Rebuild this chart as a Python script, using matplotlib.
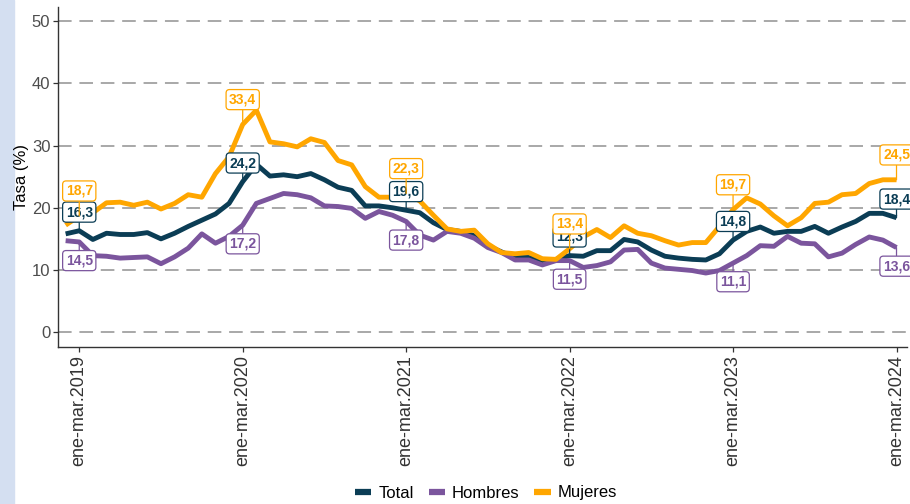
import numpy as np
import matplotlib
matplotlib.use("Agg")
import matplotlib.pyplot as plt
from matplotlib.lines import Line2D
from matplotlib.patches import Rectangle

plt.rcParams['font.family'] = ['Liberation Sans', 'DejaVu Sans']

# ---- data ----
meses = ["ene", "feb", "mar", "abr", "may", "jun", "jul", "ago", "sep", "oct", "nov", "dic"]
periodos = ["dic-feb.2019"] + [
    f"{meses[m % 12]}-{meses[(m + 2) % 12]}.{2019 + m // 12}" for m in range(61)
]

total = [15.8, 16.3, 14.9, 15.9, 15.7, 15.7, 16.0, 15.0, 15.9, 17.0, 18.0, 19.0, 20.7,
         24.2, 27.0, 25.1, 25.3, 25.0, 25.5, 24.5, 23.3, 22.8, 20.3, 20.3, 20.0,
         19.6, 19.2, 17.6, 16.5, 16.2, 15.5, 13.9, 12.9, 12.0, 12.0, 11.5, 11.7,
         12.3, 12.2, 13.1, 13.1, 14.9, 14.5, 13.2, 12.2, 11.9, 11.7, 11.6, 12.6,
         14.8, 16.2, 16.9, 15.9, 16.2, 16.2, 17.0, 15.9, 16.9, 17.8, 19.1, 19.1,
         18.4]
hombres = [14.7, 14.5, 12.3, 12.2, 11.9, 12.0, 12.1, 11.0, 12.1, 13.5, 15.8, 14.3, 15.4,
           17.2, 20.7, 21.5, 22.3, 22.1, 21.6, 20.3, 20.2, 19.9, 18.3, 19.4, 18.8,
           17.8, 15.6, 14.8, 16.2, 15.9, 15.1, 13.6, 12.8, 11.6, 11.6, 10.8, 11.5,
           11.5, 10.4, 10.7, 11.3, 13.2, 13.3, 11.1, 10.3, 10.1, 9.9, 9.5, 9.9,
           11.1, 12.3, 13.9, 13.8, 15.4, 14.3, 14.2, 12.1, 12.7, 14.1, 15.3, 14.8,
           13.6]
mujeres = [17.2, 18.7, 19.2, 20.8, 20.9, 20.4, 20.9, 19.8, 20.7, 22.1, 21.7, 25.5, 28.2,
           33.4, 35.7, 30.6, 30.3, 29.8, 31.1, 30.5, 27.6, 26.9, 23.4, 21.7, 21.7,
           22.3, 21.1, 18.8, 16.6, 16.2, 16.4, 14.2, 12.8, 12.6, 12.8, 11.8, 11.7,
           13.4, 15.3, 16.5, 15.2, 17.1, 15.9, 15.5, 14.7, 14.0, 14.4, 14.4, 17.0,
           19.7, 21.6, 20.6, 18.7, 17.1, 18.4, 20.7, 20.9, 22.1, 22.3, 23.9, 24.5,
           24.5]

series = ["Total", "Hombres", "Mujeres"]
valores = {"Total": total, "Hombres": hombres, "Mujeres": mujeres}
colores = {"Total": "#0b3d55", "Hombres": "#7b559d", "Mujeres": "#ffa600"}
nudge = {"Total": 3.0, "Hombres": -3.0, "Mujeres": 4.0}
y_ticks = [0, 10, 20, 30, 40, 50]

# ---- figure ----
fig = plt.figure(figsize=(9.1, 5.04), dpi=100)
fig.patches.append(Rectangle((0, 0), 14 / 910, 1, transform=fig.transFigure,
                             color="#d4dff1", zorder=-10))
ax = fig.add_axes([58 / 910, (504 - 347) / 504, (907 - 58) / 910, (347 - 7) / 504])

x = np.arange(len(periodos))
tick_idx = [i for i, p in enumerate(periodos) if p.startswith("ene-mar")]

for k, s in enumerate(series):
    ax.plot(x, valores[s], color=colores[s], lw=3.5, solid_joinstyle="round",
            solid_capstyle="butt", zorder=3 + k * 0.1)

for s in series:
    z = 6 if s == "Mujeres" else 5
    for i in tick_idx:
        v = valores[s][i]
        ax.annotate(f"{v:.1f}".replace(".", ","), xy=(x[i], v),
                    xytext=(x[i], v + nudge[s]), textcoords="data",
                    ha="center", va="center", fontsize=10, fontweight="bold",
                    color=colores[s], zorder=z, annotation_clip=False,
                    bbox=dict(boxstyle="round,pad=0.22,rounding_size=0.25",
                              fc="white", ec=colores[s], lw=0.9),
                    arrowprops=dict(arrowstyle="-", color=colores[s], lw=0.9,
                                    shrinkA=0, shrinkB=0))

ax.set_xlim(-0.56, 61.77)
ax.set_ylim(-2.4, 52.3)
ax.set_yticks(y_ticks)
ax.set_yticklabels([str(t) for t in y_ticks], fontsize=12, color="#4d4d4d")
ax.set_xticks(x[tick_idx])
ax.set_xticklabels([periodos[i] for i in tick_idx], rotation=90, fontsize=13,
                   color="#333333", va="top")
ax.yaxis.grid(True, color="#a8a8a8", lw=1.4, linestyle=(0, (7, 4)))
ax.set_axisbelow(True)
ax.tick_params(axis="both", length=3.5, width=0.9, color="#333333", pad=2)
for side in ["top", "right"]:
    ax.spines[side].set_visible(False)
for side in ["left", "bottom"]:
    ax.spines[side].set_color("#333333")
    ax.spines[side].set_linewidth(1.0)
ax.set_ylabel("Tasa (%)", fontsize=12, color="black", labelpad=2)

handles = [Line2D([], [], color=colores[s], lw=4.5, solid_capstyle="butt") for s in series]
fig.legend(handles, series, loc="center", bbox_to_anchor=(486 / 910, 11 / 504), ncol=3,
           frameon=False, fontsize=12, handlelength=1.0, handletextpad=0.4,
           columnspacing=0.9)

fig.savefig("out.png", dpi=100)
